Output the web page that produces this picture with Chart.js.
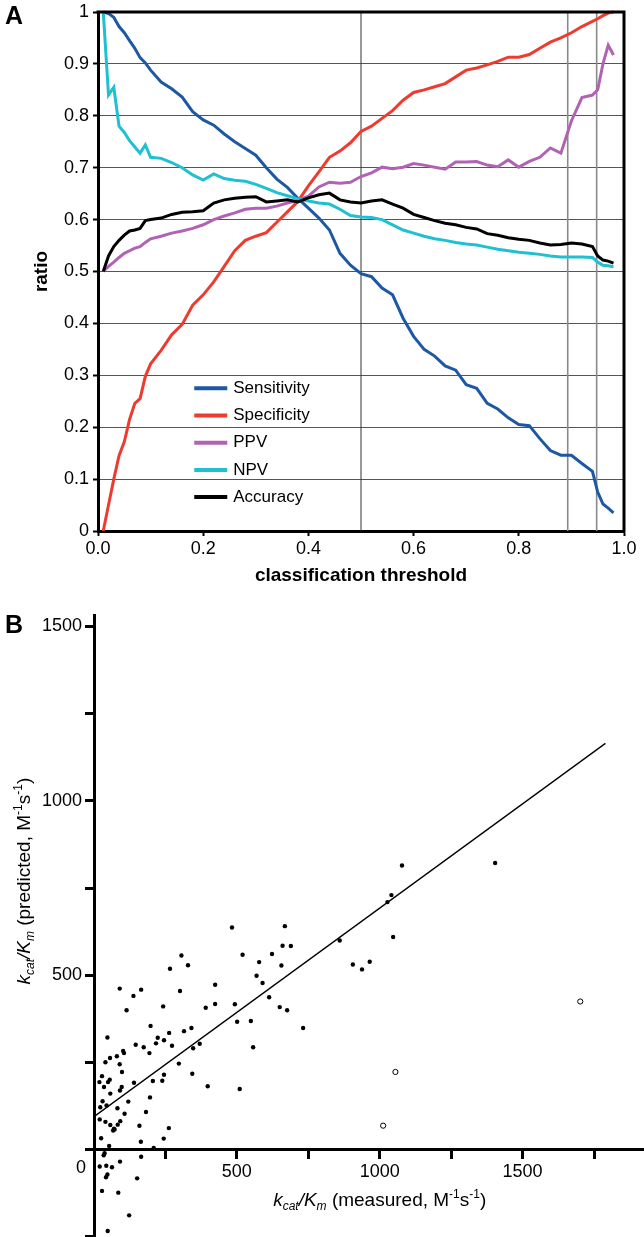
<!DOCTYPE html>
<html>
<head>
<meta charset="utf-8">
<script src="https://cdn.jsdelivr.net/npm/chart.js@4.4.0/dist/chart.umd.min.js"></script>
<style>
  body { margin: 0; background: #fff; width: 644px; height: 1237px; position: relative; overflow: hidden;
         font-family: "Liberation Sans", Arial, sans-serif; }
  .panel { position: absolute; left: 0; }
  #wrapA { top: 0; width: 644px; height: 590px; }
  #wrapB { top: 590px; width: 649px; height: 653px; }
  .tag { position: absolute; left: 5px; font-weight: bold; font-size: 25px; line-height: 1; }
</style>
</head>
<body>
<div class="panel" id="wrapA"><canvas id="chartA"></canvas></div>
<div class="panel" id="wrapB"><canvas id="chartB"></canvas></div>
<div class="tag" style="top:3px">A</div>
<div class="tag" style="top:612px">B</div>

<script>
// panel A - classification threshold
const thresholds = [0.01,0.02,0.03,0.04,0.05,0.06,0.07,0.08,0.09,0.10,
  0.12,0.14,0.16,0.18,0.20,0.22,0.24,0.26,0.28,0.30,
  0.32,0.34,0.36,0.38,0.40,0.42,0.44,0.46,0.48,0.50,
  0.52,0.54,0.56,0.58,0.60,0.62,0.64,0.66,0.68,0.70,
  0.72,0.74,0.76,0.78,0.80,0.82,0.84,0.86,0.88,0.90,
  0.92,0.94,0.95,0.96,0.97,0.98];

const sensitivity = [1.0,0.997,0.99,0.972,0.96,0.945,0.93,0.912,0.902,0.888,
  0.865,0.852,0.836,0.808,0.792,0.782,0.765,0.75,0.737,0.724,
  0.70,0.678,0.662,0.641,0.622,0.603,0.58,0.535,0.512,0.496,
  0.49,0.468,0.455,0.41,0.375,0.35,0.337,0.318,0.31,0.282,
  0.275,0.246,0.235,0.218,0.205,0.203,0.178,0.155,0.146,0.146,
  0.13,0.115,0.075,0.052,0.044,0.035];

const specificity = [0,0.05,0.1,0.145,0.172,0.215,0.246,0.255,0.298,0.322,
  0.348,0.378,0.398,0.435,0.455,0.48,0.51,0.54,0.56,0.568,
  0.575,0.595,0.615,0.635,0.665,0.692,0.72,0.732,0.748,0.77,
  0.78,0.795,0.81,0.83,0.845,0.85,0.856,0.862,0.875,0.888,
  0.892,0.898,0.905,0.913,0.913,0.918,0.93,0.942,0.95,0.96,
  0.972,0.982,0.987,0.993,0.998,1.0];

const ppv = [0.5,0.51,0.518,0.527,0.535,0.54,0.545,0.548,0.556,0.563,
  0.568,0.574,0.578,0.583,0.59,0.6,0.607,0.613,0.62,0.622,
  0.622,0.626,0.632,0.637,0.645,0.663,0.672,0.67,0.672,0.683,
  0.69,0.701,0.698,0.701,0.708,0.705,0.701,0.697,0.711,0.711,
  0.712,0.705,0.702,0.715,0.701,0.712,0.72,0.738,0.728,0.79,
  0.835,0.84,0.85,0.9,0.936,0.917];

const npv = [1.0,0.84,0.855,0.78,0.768,0.752,0.74,0.728,0.744,0.72,
  0.718,0.71,0.7,0.686,0.676,0.688,0.679,0.676,0.674,0.668,
  0.66,0.652,0.646,0.64,0.636,0.632,0.63,0.62,0.608,0.605,
  0.604,0.6,0.59,0.58,0.574,0.568,0.563,0.56,0.556,0.553,
  0.551,0.547,0.543,0.54,0.537,0.535,0.533,0.53,0.528,0.528,
  0.528,0.527,0.518,0.512,0.511,0.509];

const accuracy = [0.5,0.53,0.548,0.56,0.57,0.578,0.58,0.583,0.598,0.6,
  0.603,0.61,0.614,0.615,0.617,0.632,0.638,0.641,0.643,0.644,
  0.634,0.636,0.638,0.634,0.642,0.648,0.651,0.638,0.634,0.632,
  0.636,0.638,0.63,0.622,0.61,0.604,0.598,0.593,0.59,0.585,
  0.582,0.573,0.57,0.565,0.562,0.56,0.555,0.551,0.552,0.555,
  0.553,0.548,0.53,0.522,0.52,0.516];

const seriesNames = ["Sensitivity", "Specificity", "PPV", "NPV", "Accuracy"];
const seriesColors = ["#1d58a4", "#ee3b30", "#b262b4", "#1fc0d2", "#000000"];
const markerLines = [0.5, 0.893, 0.948];

// panel B - kcat/Km
const measured = [1078,1404,1041,1027,1047,860,906,938,965,
  483,668,660,689,656,306,329,266,520,623,578,569,590,424,301,90,165,138,114,242,
  391,424,493,613,650,676,549,501,732,198,341,315,223,263,245,273,217,146,174,194,347,370,557,47,
  80,56,40,105,102,90,98,297,344,245,206,239,19,28,35,49,55,140,91,97,120,57,30,44,22,82,107,196,182,398,510,
  20,40,57,83,92,70,67,72,159,262,244,164,209,25,53,37,34,165,20,43,63,91,47,42,151,28,85,123,48];
const predicted = [815,822,730,710,610,600,531,517,539,
  637,641,585,584,528,557,529,519,559,561,538,499,478,473,455,462,459,441,400,411,
  407,418,417,437,409,400,369,367,349,355,349,340,321,335,314,298,305,301,294,277,291,304,294,322,
  268,263,251,277,283,245,223,247,218,215,197,198,194,211,180,194,201,192,170,180,138,161,139,127,122,119,103,150,108,182,174,
  87,80,71,72,82,60,55,58,69,62,32,23,5,33,11,-10,-16,-20,-48,-46,-50,-34,-71,-79,-82,-118,-123,-188,-233];
const outlierX = [1702, 1055, 1012];
const outlierY = [425, 223, 69];
const fitX = [0, 1790];
const fitY = [95, 1165];
const xTicksB = [0, 250, 500, 750, 1000, 1250, 1500, 1750];
const yTicksB = [-250, 0, 250, 500, 750, 1000, 1250, 1500];

Chart.defaults.font.family = '"Liberation Sans", Arial, sans-serif';
Chart.defaults.color = '#000';

// текст с индексами (k_cat/K_m)
function drawRich(ctx, parts, x, y, size, vertical) {
    const fontOf = p => (p.it ? 'italic ' : '') + Math.round(p.sub || p.sup ? size * 0.62 : size) + 'px "Liberation Sans", Arial, sans-serif';
    ctx.save();
    ctx.translate(x, y);
    if (vertical) ctx.rotate(-Math.PI / 2);
    let w = 0;
    parts.forEach(p => { ctx.font = fontOf(p); w += ctx.measureText(p.t).width; });
    let cx = -w / 2;
    ctx.textBaseline = 'middle';
    ctx.textAlign = 'left';
    ctx.fillStyle = '#000';
    parts.forEach(p => {
        ctx.font = fontOf(p);
        const dy = p.sub ? size * 0.3 : p.sup ? -size * 0.32 : 0;
        ctx.fillText(p.t, cx, dy);
        cx += ctx.measureText(p.t).width;
    });
    ctx.restore();
}

// линии-маркеры, рамка и легенда для A
const panelAExtras = {
    id: 'panelAExtras',
    beforeDatasetsDraw(chart) {
        const {ctx, chartArea, scales} = chart;
        ctx.save();
        markerLines.forEach((v, i) => {
            const px = scales.x.getPixelForValue(v);
            ctx.strokeStyle = i === 0 ? '#333' : '#8a8a8a';
            ctx.lineWidth = i === 0 ? 1 : 1.6;
            ctx.beginPath();
            ctx.moveTo(px, chartArea.top);
            ctx.lineTo(px, chartArea.bottom);
            ctx.stroke();
        });
        ctx.restore();
    },
    afterDraw(chart) {
        const {ctx, chartArea} = chart;
        ctx.save();
        ctx.strokeStyle = '#000';
        ctx.lineWidth = 3;
        ctx.beginPath();
        ctx.moveTo(chartArea.left - 1.5, chartArea.top);
        ctx.lineTo(chartArea.right, chartArea.top);
        ctx.lineTo(chartArea.right, chartArea.bottom + 1.5);
        ctx.stroke();

        const w = chartArea.right - chartArea.left;
        const h = chartArea.bottom - chartArea.top;
        const lx = chartArea.left + w * 0.183;
        ctx.font = '17px "Liberation Sans", Arial, sans-serif';
        ctx.textBaseline = 'middle';
        ctx.fillStyle = '#000';
        seriesNames.forEach((name, i) => {
            const ly = chartArea.top + h * 0.725 + i * 27.2;
            ctx.strokeStyle = seriesColors[i];
            ctx.lineWidth = 4;
            ctx.beginPath();
            ctx.moveTo(lx, ly);
            ctx.lineTo(lx + 33, ly);
            ctx.stroke();
            ctx.fillText(name, lx + 39, ly);
        });
        ctx.restore();
    }
};

const seriesA = [sensitivity, specificity, ppv, npv, accuracy];

new Chart(document.getElementById('chartA'), {
    type: 'line',
    data: {
        datasets: seriesA.map((vals, i) => ({
            label: seriesNames[i],
            data: thresholds.map((t, j) => ({x: t, y: vals[j]})),
            borderColor: seriesColors[i],
            borderWidth: 3,
            pointRadius: 0,
            tension: 0,
            clip: 6,
            order: 4 - i
        }))
    },
    options: {
        animation: false,
        responsive: true,
        maintainAspectRatio: false,
        layout: {padding: {top: 12, right: 20, left: 0, bottom: 0}},
        plugins: {legend: {display: false}, tooltip: {enabled: false}},
        scales: {
            x: {
                type: 'linear', min: 0, max: 1,
                ticks: {stepSize: 0.2, callback: v => v.toFixed(1), font: {size: 18}, color: '#000', padding: 2, maxRotation: 0},
                grid: {drawOnChartArea: false, tickLength: 5, tickColor: '#000', tickWidth: 2},
                border: {color: '#000', width: 3},
                title: {display: true, text: 'classification threshold', font: {size: 19, weight: 'bold'}, color: '#000', padding: {top: 0, bottom: 3}},
                afterFit: s => { s.height = 59; s.paddingLeft = 0; s.paddingRight = 0; }
            },
            y: {
                min: 0, max: 1,
                ticks: {
                    stepSize: 0.1, font: {size: 18}, color: '#000', padding: 4,
                    callback: v => {
                        const r = Math.round(v * 10) / 10;
                        return (r === 0 || r === 1) ? String(r) : r.toFixed(1);
                    }
                },
                grid: {color: '#555', lineWidth: 1, tickLength: 5, tickColor: '#000', tickWidth: 2},
                border: {color: '#000', width: 3},
                title: {display: true, text: 'ratio', font: {size: 19, weight: 'bold'}, color: '#000', padding: {top: 30, bottom: 0}},
                afterFit: s => { s.width = 98; s.paddingTop = 0; s.paddingBottom = 0; }
            }
        }
    },
    plugins: [panelAExtras]
});

// подписи осей для B
const panelBExtras = {
    id: 'panelBExtras',
    afterDraw(chart) {
        const {ctx, chartArea, scales} = chart;
        const y0 = scales.y.getPixelForValue(0);
        ctx.save();
        ctx.font = '18px "Liberation Sans", Arial, sans-serif';
        ctx.fillStyle = '#000';
        ctx.textAlign = 'right';
        ctx.textBaseline = 'middle';
        ctx.fillText('0', chartArea.left - 8, y0 + 18);
        ctx.restore();

        drawRich(ctx, [
            {t: 'k', it: 1}, {t: 'cat', it: 1, sub: 1}, {t: '/K', it: 1}, {t: 'm', it: 1, sub: 1},
            {t: ' (measured, M'}, {t: '-1', sup: 1}, {t: 's'}, {t: '-1', sup: 1}, {t: ')'}
        ], scales.x.getPixelForValue(1000), y0 + 51, 19, false);

        drawRich(ctx, [
            {t: 'k', it: 1}, {t: 'cat', it: 1, sub: 1}, {t: '/K', it: 1}, {t: 'm', it: 1, sub: 1},
            {t: ' (predicted, M'}, {t: '-1', sup: 1}, {t: 's'}, {t: '-1', sup: 1}, {t: ')'}
        ], 25, scales.y.getPixelForValue(770), 19, true);
    }
};

new Chart(document.getElementById('chartB'), {
    type: 'scatter',
    data: {
        datasets: [
            {
                label: 'fit', type: 'line',
                data: fitX.map((x, i) => ({x: x, y: fitY[i]})),
                borderColor: '#000', borderWidth: 1.3, pointRadius: 0, showLine: true, order: 2
            },
            {
                label: 'measured',
                data: measured.map((x, i) => ({x: x, y: predicted[i]})),
                pointRadius: 2.2, backgroundColor: '#000', borderWidth: 0, order: 1
            },
            {
                label: 'outliers',
                data: outlierX.map((x, i) => ({x: x, y: outlierY[i]})),
                pointRadius: 2.6, backgroundColor: '#fff', borderColor: '#000', borderWidth: 1, order: 0
            }
        ]
    },
    options: {
        animation: false,
        responsive: true,
        maintainAspectRatio: false,
        layout: {padding: {top: 25, right: 0, left: 0, bottom: 0}},
        plugins: {legend: {display: false}, tooltip: {enabled: false}},
        scales: {
            x: {
                type: 'linear', position: {y: 0}, min: 0, max: 1925,
                afterBuildTicks: s => { s.ticks = xTicksB.map(v => ({value: v})); },
                ticks: {
                    autoSkip: false, maxRotation: 0,
                    font: {size: 18}, color: '#000', padding: 3,
                    callback: v => (v > 0 && v % 500 === 0) ? String(v) : ''
                },
                grid: {drawOnChartArea: false, tickLength: 8, tickWidth: 3, tickColor: '#000'},
                border: {color: '#000', width: 3},
                afterFit: s => { s.height = 0; s.paddingLeft = 0; s.paddingRight = 0; }
            },
            y: {
                min: -253, max: 1533,
                afterBuildTicks: s => { s.ticks = yTicksB.map(v => ({value: v})); },
                ticks: {
                    autoSkip: false,
                    font: {size: 18}, color: '#000', padding: 3,
                    callback: v => (v !== 0 && v % 500 === 0) ? String(v) : ''
                },
                grid: {drawOnChartArea: false, tickLength: 9, tickWidth: 3, tickColor: '#000'},
                border: {color: '#000', width: 3},
                afterFit: s => { s.width = 94; s.paddingTop = 0; s.paddingBottom = 0; }
            }
        }
    },
    plugins: [panelBExtras]
});
</script>
</body>
</html>
